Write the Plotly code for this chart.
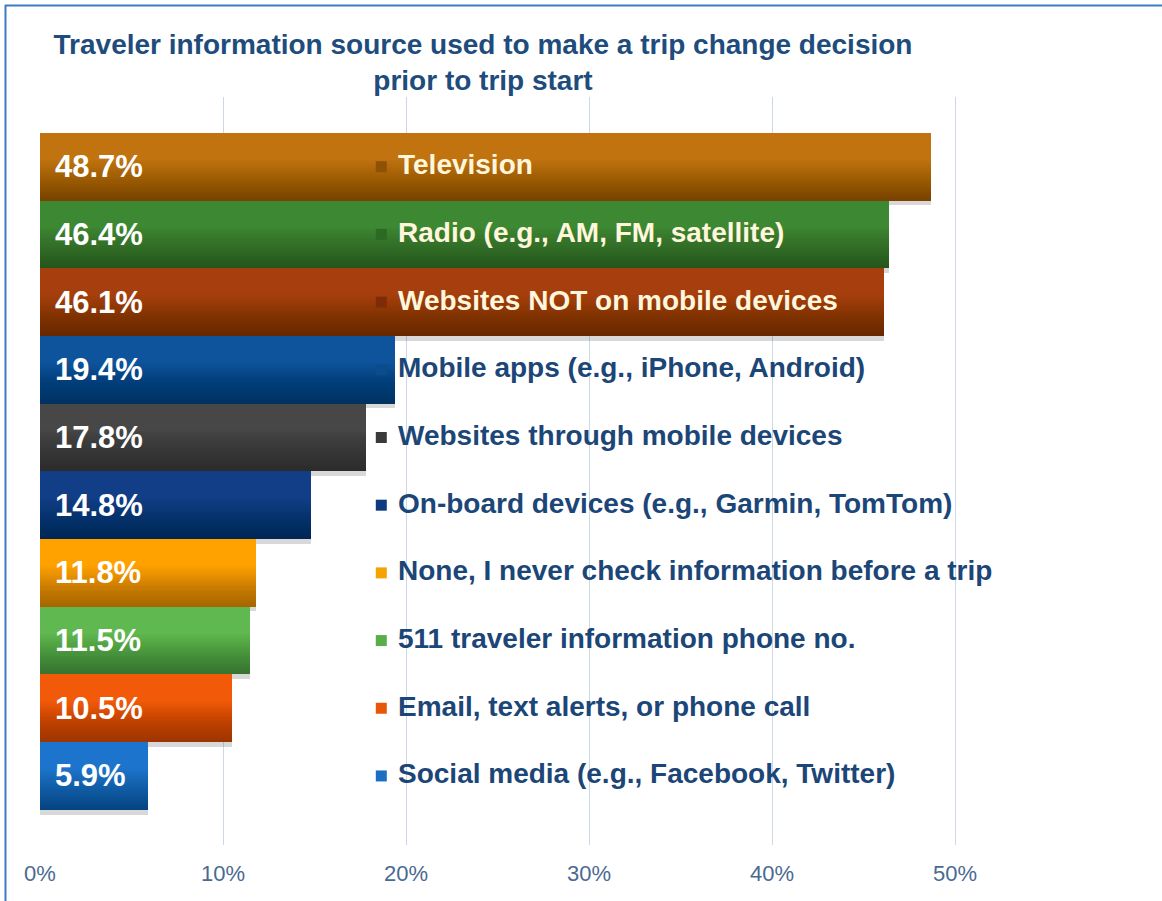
import plotly.graph_objects as go

# Survey results: share of travelers using each information source
sources = [
    "Television",
    "Radio (e.g., AM, FM, satellite)",
    "Websites NOT on mobile devices",
    "Mobile apps (e.g., iPhone, Android)",
    "Websites through mobile devices",
    "On-board devices (e.g., Garmin, TomTom)",
    "None, I never check information before a trip",
    "511 traveler information phone no.",
    "Email, text alerts, or phone call",
    "Social media (e.g., Facebook, Twitter)",
]
shares = [48.7, 46.4, 46.1, 19.4, 17.8, 14.8, 11.8, 11.5, 10.5, 5.9]

bar_colors = ["#C0730F", "#3D8832", "#A63F0D", "#0D549C", "#474747",
              "#113E87", "#FFA200", "#60B850", "#F25A0A", "#1C74CC"]
key_colors = ["#8E5206", "#2C6A24", "#7E2C06", "#0B4C8C", "#3A3A3A",
              "#0E3A80", "#F5A300", "#5AAE4A", "#E8560A", "#1A6EC4"]
label_colors = ["#FFF6DC"] * 3 + ["#1B4677"] * 7

x_ticks = [0, 10, 20, 30, 40, 50]
x_tick_text = ["0%", "10%", "20%", "30%", "40%", "50%"]

W, H = 1162, 901
ML, MR, MT, MB = 40, 24, 97, 56
pos = list(range(len(sources)))

fig = go.Figure()

# soft drop shadow just under each bar
fig.add_trace(go.Bar(
    y=pos, x=shares, orientation="h", offset=0.5, width=0.07,
    marker=dict(color="rgba(60,60,60,0.20)", line=dict(width=0)),
    hoverinfo="skip", showlegend=False,
))

# main bars
fig.add_trace(go.Bar(
    y=pos, x=shares, orientation="h", width=1.0,
    marker=dict(color=bar_colors, line=dict(width=0)),
    hovertemplate="%{x:.1f}%<extra></extra>", showlegend=False,
))

# darkening bands toward the bottom edge of each bar (vertical gradient)
n_bands = 24
for k in range(n_bands):
    start = -0.1 + k * 0.025
    fig.add_trace(go.Bar(
        y=pos, x=shares, orientation="h", offset=start, width=0.5 - start,
        marker=dict(color="rgba(0,0,0,0.014)", line=dict(width=0)),
        hoverinfo="skip", showlegend=False,
    ))

# small colour keys beside the category names
fig.add_trace(go.Scatter(
    x=[18.65] * len(sources), y=pos, mode="markers",
    marker=dict(symbol="square", size=11, color=key_colors, line=dict(width=0)),
    hoverinfo="skip", showlegend=False,
))

annotations = []
for i, (name, val) in enumerate(zip(sources, shares)):
    annotations.append(dict(
        x=0, y=i, xref="x", yref="y", xanchor="left", yanchor="middle",
        xshift=13, text=f"<b>{val:.1f}%</b>", showarrow=False,
        font=dict(family="Liberation Sans, Arial, sans-serif", size=31, color="#FFFFFF"),
    ))
    annotations.append(dict(
        x=19.45, y=i, xref="x", yref="y", xanchor="left", yanchor="middle",
        yshift=2, text=f"<b>{name}</b>", showarrow=False,
        font=dict(family="Liberation Sans, Arial, sans-serif", size=28, color=label_colors[i]),
    ))

pw, ph = W - ML - MR, H - MT - MB


def px_x(p):
    return (p - ML) / pw


def px_y(p):
    return (H - MB - p) / ph


frame = "#3B7DC0"
shapes = [
    dict(type="line", xref="paper", yref="paper", x0=px_x(5), x1=px_x(1162),
         y0=px_y(5.5), y1=px_y(5.5), line=dict(color=frame, width=2)),
    dict(type="line", xref="paper", yref="paper", x0=px_x(5.5), x1=px_x(5.5),
         y0=px_y(5), y1=px_y(901), line=dict(color=frame, width=2)),
]

fig.update_layout(
    width=W, height=H,
    margin=dict(l=ML, r=MR, t=MT, b=MB),
    paper_bgcolor="white", plot_bgcolor="white",
    barmode="overlay", bargap=0,
    title=dict(
        text="<b>Traveler information source used to make a trip change decision<br>prior to trip start</b>",
        x=483 / W, xanchor="center", xref="container",
        y=1 - 54 / H, yanchor="top", yref="container",
        font=dict(family="Liberation Sans, Arial, sans-serif", size=28, color="#1E4C7C"),
    ),
    xaxis=dict(
        range=[0, pw / 18.3], tickvals=x_ticks, ticktext=x_tick_text,
        showgrid=True, gridcolor="#CCD8E6", gridwidth=1, zeroline=False,
        showline=False, ticks="outside", ticklen=9, tickcolor="rgba(0,0,0,0)",
        tickfont=dict(family="Liberation Sans, Arial, sans-serif", size=22, color="#4A6A92"),
    ),
    yaxis=dict(
        range=[10.02, -1.03], showticklabels=False, showgrid=False,
        zeroline=False, showline=False,
    ),
    annotations=annotations,
    shapes=shapes,
)

fig.write_html("out.html")
